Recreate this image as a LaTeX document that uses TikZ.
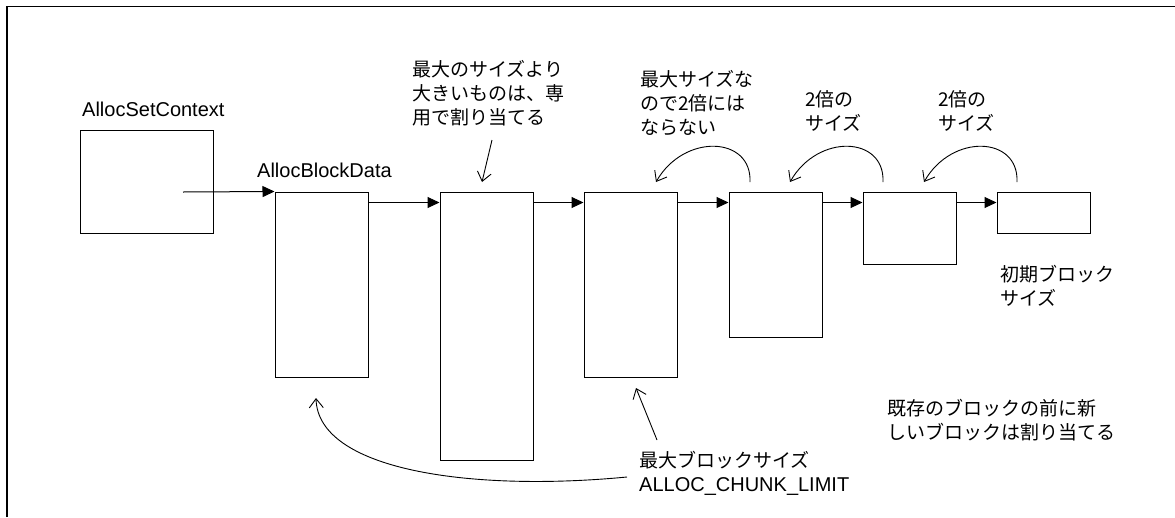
\documentclass[tikz,border=0pt]{standalone}
\usepackage{fontspec}
\setmainfont{Liberation Sans}
\newfontfamily\jp{Noto Sans CJK JP}
\usetikzlibrary{arrows.meta}
\begin{document}
\begin{tikzpicture}[x=1pt,y=-1pt,
  box/.style={draw,line width=1pt,inner sep=0pt,rectangle,minimum width=93pt},
  link/.style={line width=1pt,-{Triangle[length=12pt,width=11pt]}},
  note/.style={line width=0.9pt,-{Straight Barb[length=9pt,width=14pt]}},
  lbl/.style={inner sep=0pt,font=\fontsize{20}{24}\selectfont},
  jlbl/.style={inner sep=0pt,align=left,font=\jp\fontsize{19}{24}\selectfont},
]
\useasboundingbox (0,0) rectangle (1175,517);
\draw[line width=1.2pt] (7,517) -- (7,6.5) -- (1175,6.5);

% boxes
\node[box,minimum width=133pt,minimum height=103pt] (ctx) at (146.5,181.5) {};
\node[box,minimum height=185pt] (b1) at (321.5,284.5) {};
\node[box,minimum height=268pt] (b2) at (486.5,326) {};
\node[box,minimum height=185pt] (b3) at (630.5,284.5) {};
\node[box,minimum height=145pt] (b4) at (775.5,264.5) {};
\node[box,minimum height=72pt] (b5) at (909.5,228) {};
\node[box,minimum height=41pt] (b6) at (1043.5,212.5) {};

% labels
\node[lbl,anchor=base west] (lctx) at (82,116) {AllocSetContext};
\node[lbl,anchor=base west] (lblk) at (257,177) {AllocBlockData};
\node[jlbl,anchor=west] (tbig) at (412,93) {最大のサイズより\\大きいものは、専\\用で割り当てる};
\node[jlbl,anchor=west] (tmax) at (640,103) {最大サイズな\\ので2倍には\\ならない};
\node[jlbl,anchor=west] (tdbl1) at (805,111) {2倍の\\サイズ};
\node[jlbl,anchor=west] (tdbl2) at (938,111) {2倍の\\サイズ};
\node[jlbl,anchor=west] (tinit) at (1000,286) {初期ブロック\\サイズ};
\node[jlbl,anchor=west] (tnew) at (887,420.5) {既存のブロックの前に新\\しいブロックは割り当てる};
\node[jlbl,anchor=west] (tlim1) at (639,460) {最大ブロックサイズ};
\node[lbl,anchor=base west] (tlim2) at (639,491) {ALLOC\_CHUNK\_LIMIT};

% chain links
\coordinate (cs) at (183,192);
\draw[link] (cs) -- (b1.north west);
\draw[link] ([yshift=-11pt]b1.north east) -- ([yshift=-11pt]b2.north west);
\draw[link] ([yshift=-11pt]b2.north east) -- ([yshift=-11pt]b3.north west);
\draw[link] ([yshift=-11pt]b3.north east) -- ([yshift=-11pt]b4.north west);
\draw[link] ([yshift=-11pt]b4.north east) -- ([yshift=-11pt]b5.north west);
\draw[link] ([yshift=-11pt]b5.north east) -- ([yshift=-11pt]b6.north west);

% note arrows
\coordinate (a0s) at (492,140);
\coordinate (a0e) at (482,182);
\draw[note] (a0s) -- (a0e);

\coordinate (a1s) at (750,182);
\coordinate (a1e) at (656,182);
\draw[note] (a1s) .. controls (752,136) and (684,133) .. (a1e);
\coordinate (a2s) at (883,182);
\coordinate (a2e) at (790,182);
\draw[note] (a2s) .. controls (885,136) and (818,133) .. (a2e);
\coordinate (a3s) at (1017,182);
\coordinate (a3e) at (924,182);
\draw[note] (a3s) .. controls (1019,136) and (952,133) .. (a3e);

\coordinate (a4s) at (657,440);
\coordinate (a4e) at (636,388);
\draw[note] (a4s) -- (a4e);

\coordinate (a5s) at (627,477);
\coordinate (a5e) at (316,398);
\draw[note] (a5s) .. controls (470,492) and (318,470) .. (a5e);
\end{tikzpicture}
\end{document}
